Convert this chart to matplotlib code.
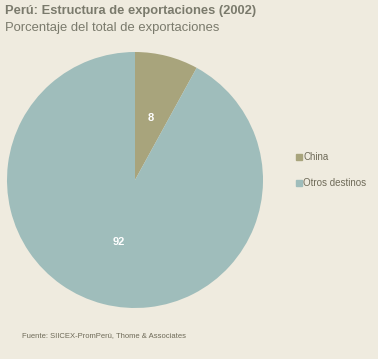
import matplotlib
matplotlib.use("Agg")
import matplotlib.pyplot as plt
import numpy as np

plt.rcParams['font.family'] = ['Liberation Sans', 'DejaVu Sans']

categories = ["China", "Otros destinos"]
values = [8, 92]
colors = ["#a8a47c", "#9fbdbb"]

bg = "#efebdf"
fig = plt.figure(figsize=(3.78, 3.59), dpi=100, facecolor=bg)
W, H = 378, 359
cx, cy, r = 135, 180, 128
ax = fig.add_axes([(cx - r) / W, 1 - (cy + r) / H, 2 * r / W, 2 * r / H])
ax.set_facecolor(bg)
wedges, _ = ax.pie(values, colors=colors, startangle=90, counterclock=False,
                   wedgeprops=dict(linewidth=0))
ax.set_aspect("equal")
ax.set_xlim(-1, 1)
ax.set_ylim(-1, 1)

for v, w in zip(values, wedges):
    mid = np.deg2rad((w.theta1 + w.theta2) / 2)
    rr = 0.5
    ax.text(rr * np.cos(mid), rr * np.sin(mid), str(v), ha="center", va="center",
            color="white", fontsize=8, fontweight="bold")

fig.text(5 / W, 1 - 11 / H, "Perú: Estructura de exportaciones (2002)", fontsize=9.3,
         fontweight="bold", color="#7a7a6c", va="center", ha="left")
fig.text(5 / W, 1 - 28 / H, "Porcentaje del total de exportaciones", fontsize=9.4,
         color="#7a7a6c", va="center", ha="left")
fig.text(22 / W, 1 - 336 / H, "Fuente: SIICEX-PromPerú, Thome & Associates", fontsize=5.5,
         color="#6e6a58", va="center", ha="left")

leg_y = [157, 183]
for cat, col, y in zip(categories, colors, leg_y):
    fig.patches.append(plt.Rectangle((296 / W, 1 - (y + 3) / H), 6 / W, 6 / H,
                                     transform=fig.transFigure, color=col, figure=fig))
    fig.text(303 / W, 1 - y / H, cat, fontsize=7, color="#6e6a58", va="center", ha="left")

fig.savefig("out.png", dpi=100, facecolor=bg)
